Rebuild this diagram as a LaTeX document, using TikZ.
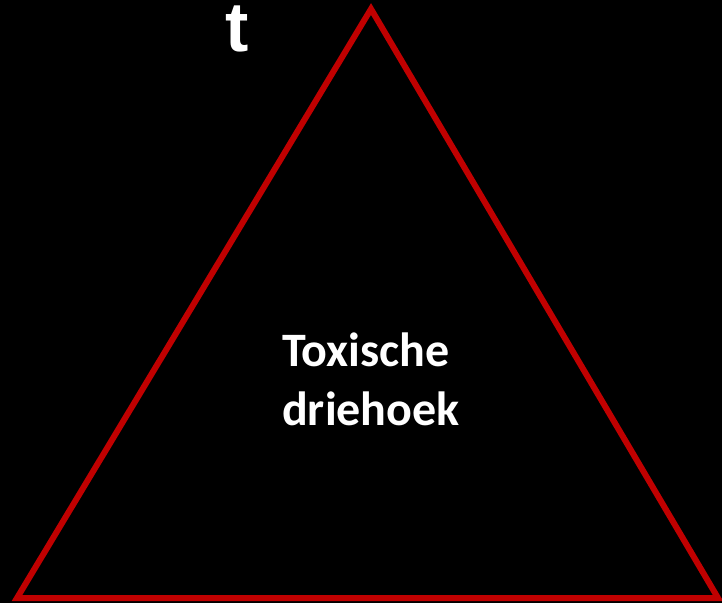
\documentclass[tikz,border=0pt]{standalone}
\usepackage{fontspec}
\setmainfont{Carlito}
\newfontfamily\tfont{Liberation Sans}
\definecolor{tri}{HTML}{C00000}
\begin{document}
\begin{tikzpicture}[x=1pt,y=-1pt,
  lbl/.style={text=white,font=\bfseries\fontsize{48}{59}\selectfont,align=left,inner sep=0pt},
  edge/.style={draw=tri,line width=6pt,line join=miter}]
\fill[black] (0,0) rectangle (722,603);
\useasboundingbox (0,0) rectangle (722,603);
\coordinate (apex) at (371,9);
\coordinate (bl) at (17,598);
\coordinate (br) at (718,598);
\draw[edge] (apex) -- (br) -- (bl) -- cycle;
\node[text=white,font=\tfont\bfseries\fontsize{70}{70}\selectfont,anchor=base,inner sep=0pt] (t) at (237,51) {t};
\node[lbl,anchor=north west] (txt) at (282,333) {Toxische\\driehoek};
\end{tikzpicture}
\end{document}
